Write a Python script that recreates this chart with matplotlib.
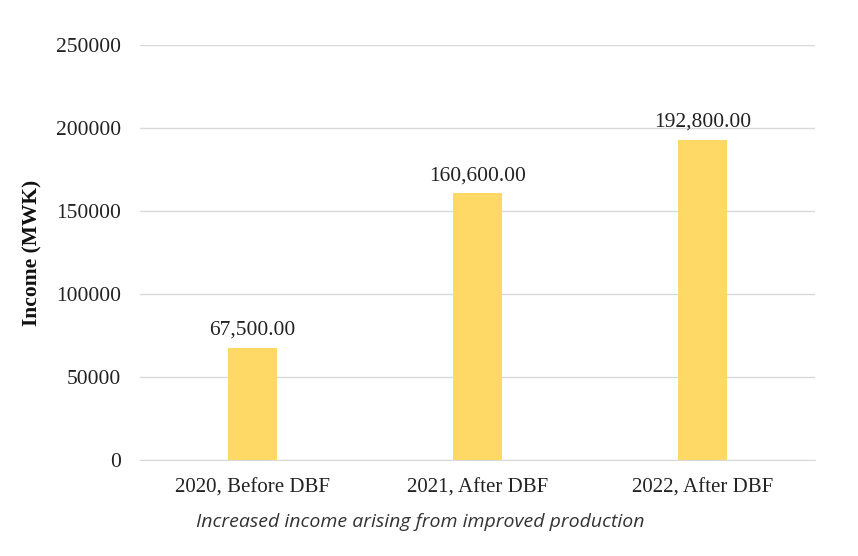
import matplotlib
matplotlib.use("Agg")
import matplotlib.pyplot as plt

categories = ["2020, Before DBF", "2021, After DBF", "2022, After DBF"]
values = [67500, 160600, 192800]
yticks = [0, 50000, 100000, 150000, 200000, 250000]
caption = "Increased income arising from improved production"

fig = plt.figure(figsize=(8.58, 5.56), dpi=100)
ax = fig.add_axes([140/858, 1-460/556, 675/858, 415/556])
serif = ["Liberation Serif", "DejaVu Serif"]

x = list(range(len(categories)))
ax.bar(x, values, width=0.22, color="#FFD966", zorder=3)
for xi, v in zip(x, values):
    ax.text(xi, v + 5000, f"{v:,.2f}", ha="center", va="bottom",
            fontsize=15.5, family=serif, color="#222222")

ax.set_xlim(-0.5, 2.5)
ax.set_ylim(0, 250000)
ax.set_yticks(yticks)
ax.set_yticklabels([str(t) for t in yticks], family=serif, fontsize=15.5, color="#222222")
ax.set_xticks(x)
ax.set_xticklabels(categories, family=serif, fontsize=15, color="#222222")
ax.tick_params(axis="both", length=0)
ax.tick_params(axis="y", pad=13.5)
ax.tick_params(axis="x", pad=13)
ax.grid(axis="y", color="#d9d9d9", linewidth=1, zorder=0)
for s in ["top", "right", "left"]:
    ax.spines[s].set_visible(False)
ax.spines["bottom"].set_color("#d9d9d9")
ax.set_ylabel("Income (MWK)", family=serif, fontsize=15.5, fontweight="bold",
              color="#111111")
ax.yaxis.set_label_coords((42 - 140) / 675, 0.5)

fig.text(420/858, 1-522/556, caption, ha="center", va="center",
         family=["Open Sans", "DejaVu Sans"], style="italic", fontsize=14, color="#333333")

fig.savefig("out.png", dpi=100, facecolor="white")
